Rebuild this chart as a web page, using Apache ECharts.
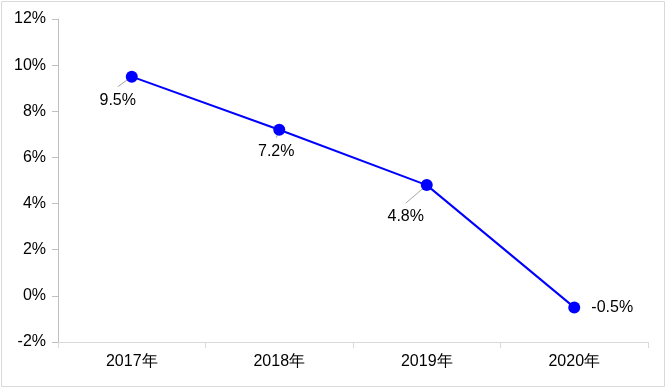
<!DOCTYPE html>
<html>
<head>
<meta charset="utf-8">
<script src="https://cdn.jsdelivr.net/npm/echarts@6/dist/echarts.min.js"></script>
<style>
html,body{margin:0;padding:0;background:#fff;}
#main{width:667px;height:389px;}
</style>
</head>
<body>
<div id="main"></div>
<script>
var categories = ['2017年', '2018年', '2019年', '2020年'];
var values = [9.5, 7.2, 4.8, -0.5];
var yTicks = { min: -2, max: 12, interval: 2 };
// label offsets (dx, dy) relative to each point
var labelOffsets = [[-14, 24], [-3, 22], [-21, 31], [38, 0]];
// leader line start offsets relative to each point (null = no leader)
var leaderOffsets = [[-14, 10], [-3, 8], [-21, 18], null];

var fontFam = 'Liberation Sans, Arial, sans-serif';
var chart = echarts.init(document.getElementById('main'));
chart.setOption({
  backgroundColor: '#fff',
  animation: false,
  textStyle: { fontFamily: fontFam },
  graphic: [{
    type: 'rect',
    shape: { x: 1.5, y: 1.5, width: 663, height: 385 },
    style: { fill: 'none', stroke: '#d9d9d9', lineWidth: 1 },
    z: 100
  }],
  grid: { left: 58, right: 19, top: 19, bottom: 47 },
  xAxis: {
    type: 'category',
    data: categories,
    boundaryGap: true,
    axisLine: { onZero: false, lineStyle: { color: '#d9d9d9', width: 1 } },
    axisTick: { show: true, length: 6, lineStyle: { color: '#d9d9d9' } },
    axisLabel: { color: '#000', fontSize: 16, margin: 12, fontFamily: fontFam },
    splitLine: { show: false }
  },
  yAxis: {
    type: 'value',
    min: yTicks.min,
    max: yTicks.max,
    interval: yTicks.interval,
    axisLine: { show: true, lineStyle: { color: '#bfbfbf', width: 1 } },
    axisTick: { show: true, length: 6, lineStyle: { color: '#bfbfbf' } },
    axisLabel: { color: '#000', fontSize: 16, margin: 12, formatter: '{value}%', fontFamily: fontFam },
    splitLine: { show: false }
  },
  series: [{
    type: 'custom',
    data: values.map(function (v, i) { return [i, v]; }),
    renderItem: function (params, api) {
      var i = params.dataIndex;
      var off = leaderOffsets[i];
      if (!off) return null;
      var p = api.coord([api.value(0), api.value(1)]);
      return {
        type: 'line',
        shape: { x1: p[0] + off[0], y1: p[1] + off[1], x2: p[0], y2: p[1] },
        style: { stroke: '#a6a6a6', lineWidth: 1 }
      };
    },
    silent: true,
    z: 1
  }, {
    type: 'line',
    data: values,
    symbol: 'circle',
    symbolSize: 12,
    lineStyle: { color: '#0000ff', width: 2 },
    itemStyle: { color: '#0000ff' },
    z: 3,
    label: {
      show: true,
      position: 'inside',
      color: '#000',
      fontSize: 16,
      fontFamily: fontFam,
      formatter: function (p) { return p.value.toFixed(1) + '%'; }
    },
    labelLayout: function (params) {
      var o = labelOffsets[params.dataIndex];
      return { dx: o[0], dy: o[1] };
    }
  }]
});
</script>
</body>
</html>
